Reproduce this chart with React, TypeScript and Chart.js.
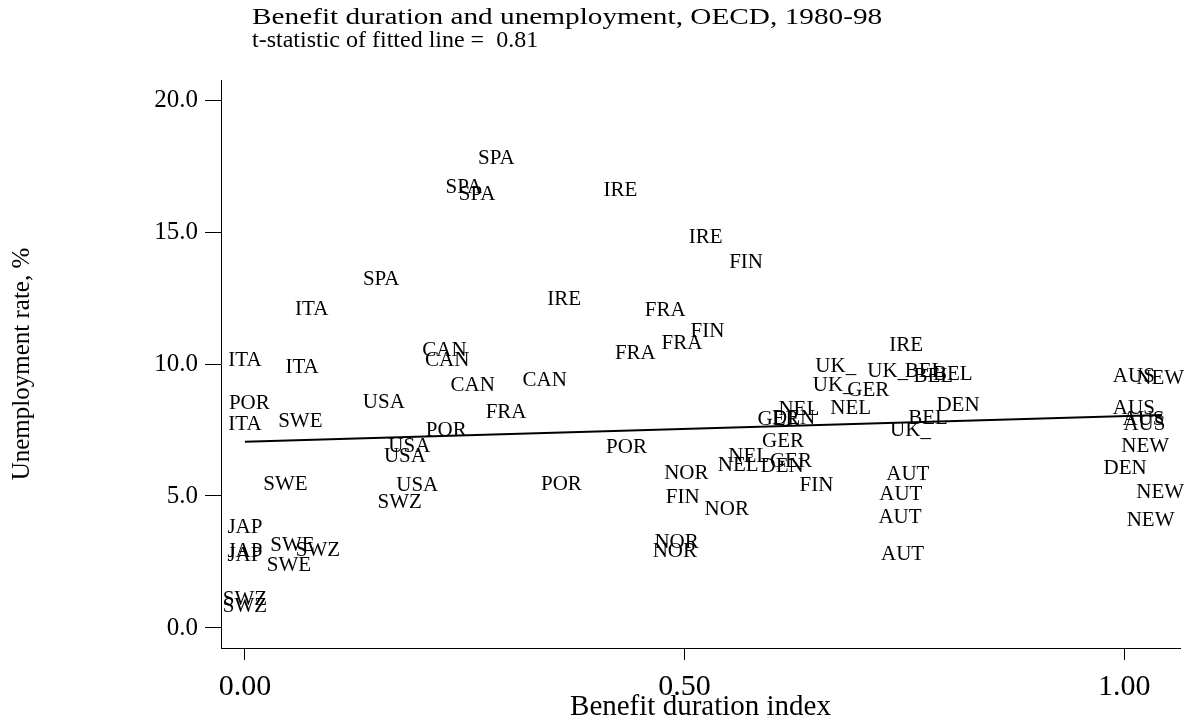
import { useEffect, useRef } from "react";
import { Chart, registerables } from "chart.js";

Chart.register(...registerables);

const countries = [
  "SPA", "SPA", "SPA", "IRE", "IRE", "FIN", "SPA", "ITA", "IRE", "FRA",
  "FIN", "FRA", "FRA", "ITA", "ITA", "CAN", "CAN", "CAN", "CAN", "USA",
  "POR", "ITA", "SWE", "FRA", "POR", "USA", "USA", "USA", "SWZ", "POR",
  "SWE", "POR", "JAP", "JAP", "JAP", "SWE", "SWZ", "SWE", "SWZ", "SWZ",
  "NOR", "FIN", "NOR", "NOR", "NOR", "UK_", "UK_", "BEL", "BEL", "BEL",
  "IRE", "UK_", "GER", "NEL", "NEL", "GER", "DEN", "GER", "NEL", "NEL",
  "GER", "DEN", "FIN", "AUT", "AUT", "AUT", "AUT", "BEL", "UK_", "DEN",
  "AUS", "NEW", "AUS", "AUS", "AUS", "NEW", "DEN", "NEW", "NEW",
];

const benefitIndex = [
  0.286, 0.249, 0.264, 0.427, 0.524, 0.570, 0.155, 0.076, 0.363, 0.478,
  0.526, 0.497, 0.444, 0.0, 0.065, 0.227, 0.230, 0.259, 0.341, 0.158,
  0.005, 0.0, 0.063, 0.297, 0.229, 0.187, 0.182, 0.196, 0.176, 0.360,
  0.046, 0.434, 0.0, 0.0, 0.0, 0.054, 0.083, 0.050, 0.0, 0.0,
  0.502, 0.498, 0.548, 0.491, 0.489, 0.672, 0.731, 0.773, 0.783, 0.805,
  0.752, 0.669, 0.709, 0.689, 0.630, 0.607, 0.624, 0.612, 0.573, 0.561,
  0.621, 0.611, 0.650, 0.754, 0.746, 0.745, 0.748, 0.777, 0.757, 0.811,
  1.011, 1.041, 1.011, 1.022, 1.023, 1.024, 1.001, 1.041, 1.030,
];

const unemploymentRate = [
  17.8, 16.7, 16.44, 16.59, 14.81, 13.83, 13.22, 12.05, 12.46, 12.01,
  11.25, 10.76, 10.38, 10.15, 9.85, 10.53, 10.15, 9.17, 9.39, 8.56,
  8.52, 7.69, 7.84, 8.18, 7.5, 6.86, 6.48, 5.38, 4.77, 5.42,
  5.45, 6.82, 3.79, 2.88, 2.75, 3.11, 2.92, 2.35, 1.06, 0.83,
  5.87, 4.96, 4.47, 3.22, 2.88, 9.89, 9.73, 9.73, 9.51, 9.62,
  10.72, 9.17, 8.98, 8.3, 8.26, 7.88, 7.95, 7.05, 6.48, 6.14,
  6.29, 6.1, 5.38, 5.83, 5.04, 4.2, 2.77, 7.95, 7.5, 8.41,
  9.51, 9.47, 8.33, 7.88, 7.69, 6.89, 6.06, 5.15, 4.09,
];

const fitX = [0, 1.043];
const fitY = [7.05, 8.07];

const xTicks = [0, 0.5, 1];
const yTicks = [0, 5, 10, 15, 20];

const titleLines = [
  "Benefit duration and unemployment, OECD, 1980-98",
  "t-statistic of fitted line =  0.81",
];
const titleStretch = [1.22, 1.0];
const xTitle = "Benefit duration index";
const yTitle = "Unemployment rate, %";

const SERIF = '"Liberation Serif", "Times New Roman", serif';

const labelPlugin = {
  id: "markerLabels",
  afterDatasetsDraw(chart: any) {
    const meta = chart.getDatasetMeta(0);
    const ctx = chart.ctx;
    ctx.save();
    ctx.font = `21px ${SERIF}`;
    ctx.fillStyle = "#000";
    ctx.textAlign = "center";
    ctx.textBaseline = "middle";
    meta.data.forEach((pt: any, i: number) => {
      ctx.fillText(countries[i], pt.x, pt.y);
    });
    ctx.restore();
  },
};

const titlePlugin = {
  id: "leftTitle",
  afterDraw(chart: any) {
    const ctx = chart.ctx;
    const x0 = chart.chartArea.left + 31;
    titleLines.forEach((t, i) => {
      ctx.save();
      ctx.font = `24px ${SERIF}`;
      ctx.fillStyle = "#000";
      ctx.textAlign = "left";
      ctx.textBaseline = "middle";
      ctx.translate(x0, 18 + i * 23);
      ctx.scale(titleStretch[i], 1);
      ctx.fillText(t, 0, 0);
      ctx.restore();
    });
  },
};

export default function App() {
  const ref = useRef<HTMLCanvasElement | null>(null);

  useEffect(() => {
    if (!ref.current) return;
    const points = benefitIndex.map((x, i) => ({ x, y: unemploymentRate[i] }));
    const fit = fitX.map((x, i) => ({ x, y: fitY[i] }));
    const chart = new Chart(ref.current, {
      type: "scatter",
      data: {
        datasets: [
          {
            label: "countries",
            data: points,
            pointRadius: 0,
            pointHoverRadius: 0,
            showLine: false,
          },
          {
            type: "line",
            label: "fit",
            data: fit,
            borderColor: "#000",
            borderWidth: 2,
            pointRadius: 0,
            fill: false,
          } as any,
        ],
      },
      options: {
        animation: false,
        responsive: true,
        maintainAspectRatio: false,
        layout: { padding: { top: 80, right: 16, bottom: 0, left: 0 } },
        plugins: {
          legend: { display: false },
          tooltip: { enabled: false },
          title: { display: false },
        },
        scales: {
          x: {
            type: "linear",
            min: -0.0272,
            max: 1.0635,
            afterBuildTicks: (scale: any) => {
              scale.ticks = xTicks.map((v) => ({ value: v }));
            },
            afterFit: (scale: any) => {
              scale.height = 77;
            },
            ticks: {
              color: "#000",
              font: { family: SERIF, size: 30 },
              padding: 9,
              maxRotation: 0,
              callback: (v: any) => Number(v).toFixed(2),
            },
            grid: {
              drawOnChartArea: false,
              drawTicks: true,
              tickLength: 12,
              color: "#000",
            },
            border: { display: true, color: "#000", width: 1 },
            title: {
              display: true,
              text: xTitle,
              color: "#000",
              font: { family: SERIF, size: 29 },
              padding: { top: 0, bottom: 0 },
            },
          },
          y: {
            type: "linear",
            min: -0.76,
            max: 20.76,
            afterBuildTicks: (scale: any) => {
              scale.ticks = yTicks.map((v) => ({ value: v }));
            },
            afterFit: (scale: any) => {
              scale.width = 221;
            },
            ticks: {
              color: "#000",
              font: { family: SERIF, size: 25 },
              padding: 7,
              callback: (v: any) => Number(v).toFixed(1),
            },
            grid: {
              drawOnChartArea: false,
              drawTicks: true,
              tickLength: 16,
              color: "#000",
            },
            border: { display: true, color: "#000", width: 1 },
            title: {
              display: true,
              text: yTitle,
              color: "#000",
              font: { family: SERIF, size: 25 },
              padding: { top: 7, bottom: 0 },
            },
          },
        },
      },
      plugins: [labelPlugin, titlePlugin],
    });
    return () => chart.destroy();
  }, []);

  return (
    <div
      style={{
        position: "fixed",
        left: 0,
        top: 0,
        width: 1196,
        height: 725,
        background: "#fff",
      }}
    >
      <canvas ref={ref} />
    </div>
  );
}
